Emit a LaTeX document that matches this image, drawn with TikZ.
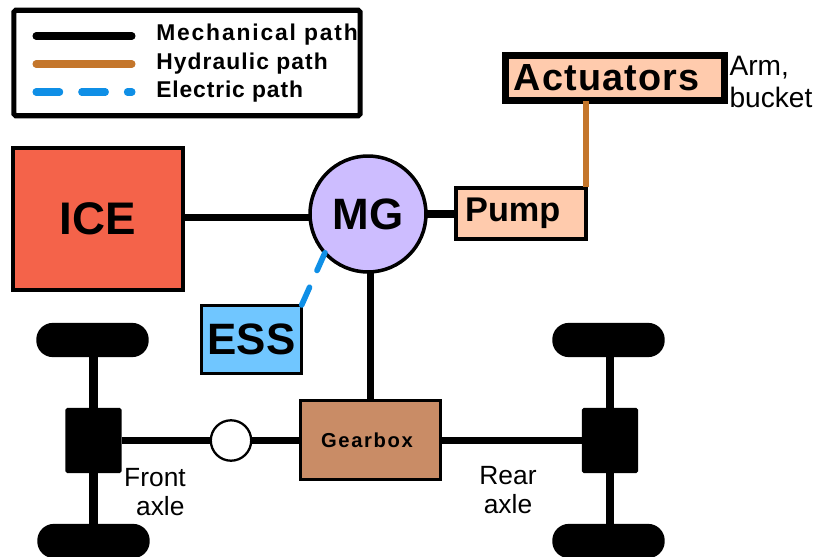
\documentclass[tikz,border=0pt]{standalone}
\usepackage{fontspec}
\setmainfont{Liberation Sans}
\usetikzlibrary{
    arrows.meta,
    calc
}
\definecolor{icered}{HTML}{F4634A}
\definecolor{mglilac}{HTML}{CDBDFF}
\definecolor{pumppeach}{HTML}{FFCBAD}
\definecolor{essblue}{HTML}{70C6FF}
\definecolor{gearbrown}{HTML}{C98C66}
\definecolor{hydbrown}{HTML}{C4762B}
\definecolor{elecblue}{HTML}{0F8FE6}
\tikzset{
    box/.style={draw,outer sep=0pt,inner sep=0pt,font=\bfseries},
    mech/.style={line width=4pt},
    hyd/.style={line width=3.4pt,draw=hydbrown},
    elec/.style={line width=3.2pt,draw=elecblue,line cap=round,dash pattern=on 11pt off 10.5pt},
    wheel/.style={fill=black,rounded corners=9.5pt,minimum width=64pt,minimum height=19.5pt,outer sep=0pt,inner sep=0pt},
    diff/.style={fill=black,rounded corners=1pt,minimum width=32pt,minimum height=37pt,outer sep=0pt,inner sep=0pt},
    axlelabel/.style={align=center,font=\fontsize{15}{17}\selectfont,inner sep=0pt},
    legendtext/.style={anchor=west,inner sep=0pt,font=\fontsize{13}{15}\selectfont\bfseries}
}
\begin{document}
\begin{tikzpicture}[x=0.02cm,y=-0.02cm]
\useasboundingbox (0,0) rectangle (815,557);

% Legend
\node[draw,line width=2.9pt,minimum width=197pt,minimum height=60pt,outer sep=0pt,rounded corners=1pt] (legend) at (187,63) {};
\coordinate (mechA) at (36,36);
\coordinate (mechB) at (132,36);
\coordinate (hydA) at (36,64);
\coordinate (hydB) at (132,64);
\coordinate (elecA) at (36,92);
\coordinate (elecB) at (132,92);
\draw[mech,line cap=round] (mechA) -- (mechB);
\draw[hyd,line width=4pt,line cap=round] (hydA) -- (hydB);
\draw[elec,line width=4pt,dash pattern=on 13.5pt off 12.5pt] (elecA) -- (elecB);
\node[legendtext] (mechtext) at (156,35) {\addfontfeature{LetterSpace=8}Mechanical path};
\node[legendtext] (hydtext) at (156,64) {\addfontfeature{LetterSpace=4.7}Hydraulic path};
\node[legendtext] (electext) at (156,92) {\addfontfeature{LetterSpace=3.8}Electric path};

% Main boxes
\node[box,fill=icered,line width=2pt,minimum width=97pt,minimum height=81pt,font=\fontsize{26}{29}\selectfont\bfseries] (ice) at (98,219) {\raisebox{-1pt}{ICE}};
\node[box,circle,fill=mglilac,line width=2pt,minimum size=66pt,font=\fontsize{25}{28}\selectfont\bfseries] (mg) at (368,214) {MG};
\node[box,fill=pumppeach,line width=2.6pt,minimum width=74pt,minimum height=29pt,font=\fontsize{19.5}{22}\selectfont\bfseries] (pump) at (521,213.5) {\hspace*{-9.4pt}\raisebox{-1.5pt}{Pump}};
\node[box,fill=pumppeach,line width=4pt,minimum width=125pt,minimum height=26pt,font=\fontsize{21.5}{24}\selectfont\bfseries] (act) at (615,78) {\hspace*{-9.7pt}\raisebox{-1pt}{\addfontfeature{LetterSpace=3}Actuators}};
\node[box,fill=essblue,line width=1.5pt,minimum width=57pt,minimum height=39pt,font=\fontsize{25}{28}\selectfont\bfseries] (ess) at (251.5,339.5) {ESS};
\node[box,fill=gearbrown,line width=1.7pt,minimum width=80pt,minimum height=45pt,font=\fontsize{11.5}{13}\selectfont\bfseries] (gear) at (370.5,440) {\hspace*{-4pt}\addfontfeature{LetterSpace=8}Gearbox};
\node[draw,circle,fill=white,line width=1.3pt,minimum size=23pt,inner sep=0pt,outer sep=0pt] (joint) at (231,440.5) {};

% Axles
\node[wheel] (wheelfl) at (92.5,340) {};
\node[wheel] (wheelrl) at (93.5,541) {};
\node[diff] (difff) at (93.5,440.5) {};
\node[wheel] (wheelfr) at (608.5,340) {};
\node[wheel] (wheelrr) at (608.5,541) {};
\node[diff] (diffr) at (610,440.5) {};

% Connectors
\draw[mech] ([yshift=0.7pt]ice.east) -- ([yshift=0.7pt]ice.east -| mg.west);
\draw[mech] (mg) -- (mg -| pump.west);
\draw[mech] (gear.north |- mg.south) -- (gear.north);
\draw[hyd] (pump.north east)++(0,-1) -- (pump.north east |- act.south);
\draw[elec] (mg.222) -- (ess.north east);
\draw[mech,line width=5pt] (difff |- wheelfl) -- (difff);
\draw[mech,line width=5pt] (difff |- wheelrl) -- (difff);
\draw[mech,line width=5pt] (diffr |- wheelfr) -- (diffr);
\draw[mech,line width=5pt] (diffr |- wheelrr) -- (diffr);
\draw[mech] (difff) -- (joint);
\draw[mech] (joint) -- (joint -| gear.west);
\draw[mech] (gear.east |- diffr) -- (diffr);

% Labels
\node[axlelabel] (frontlabel) at (155,492) {Front\\[0pt]\hspace*{6pt}axle};
\node[axlelabel] (rearlabel) at (508,490) {Rear\\[0pt]axle};
\node[axlelabel,font=\fontsize{16}{18}\selectfont,align=left] (armlabel) at (771,82) {Arm,\\bucket};
\end{tikzpicture}
\end{document}
